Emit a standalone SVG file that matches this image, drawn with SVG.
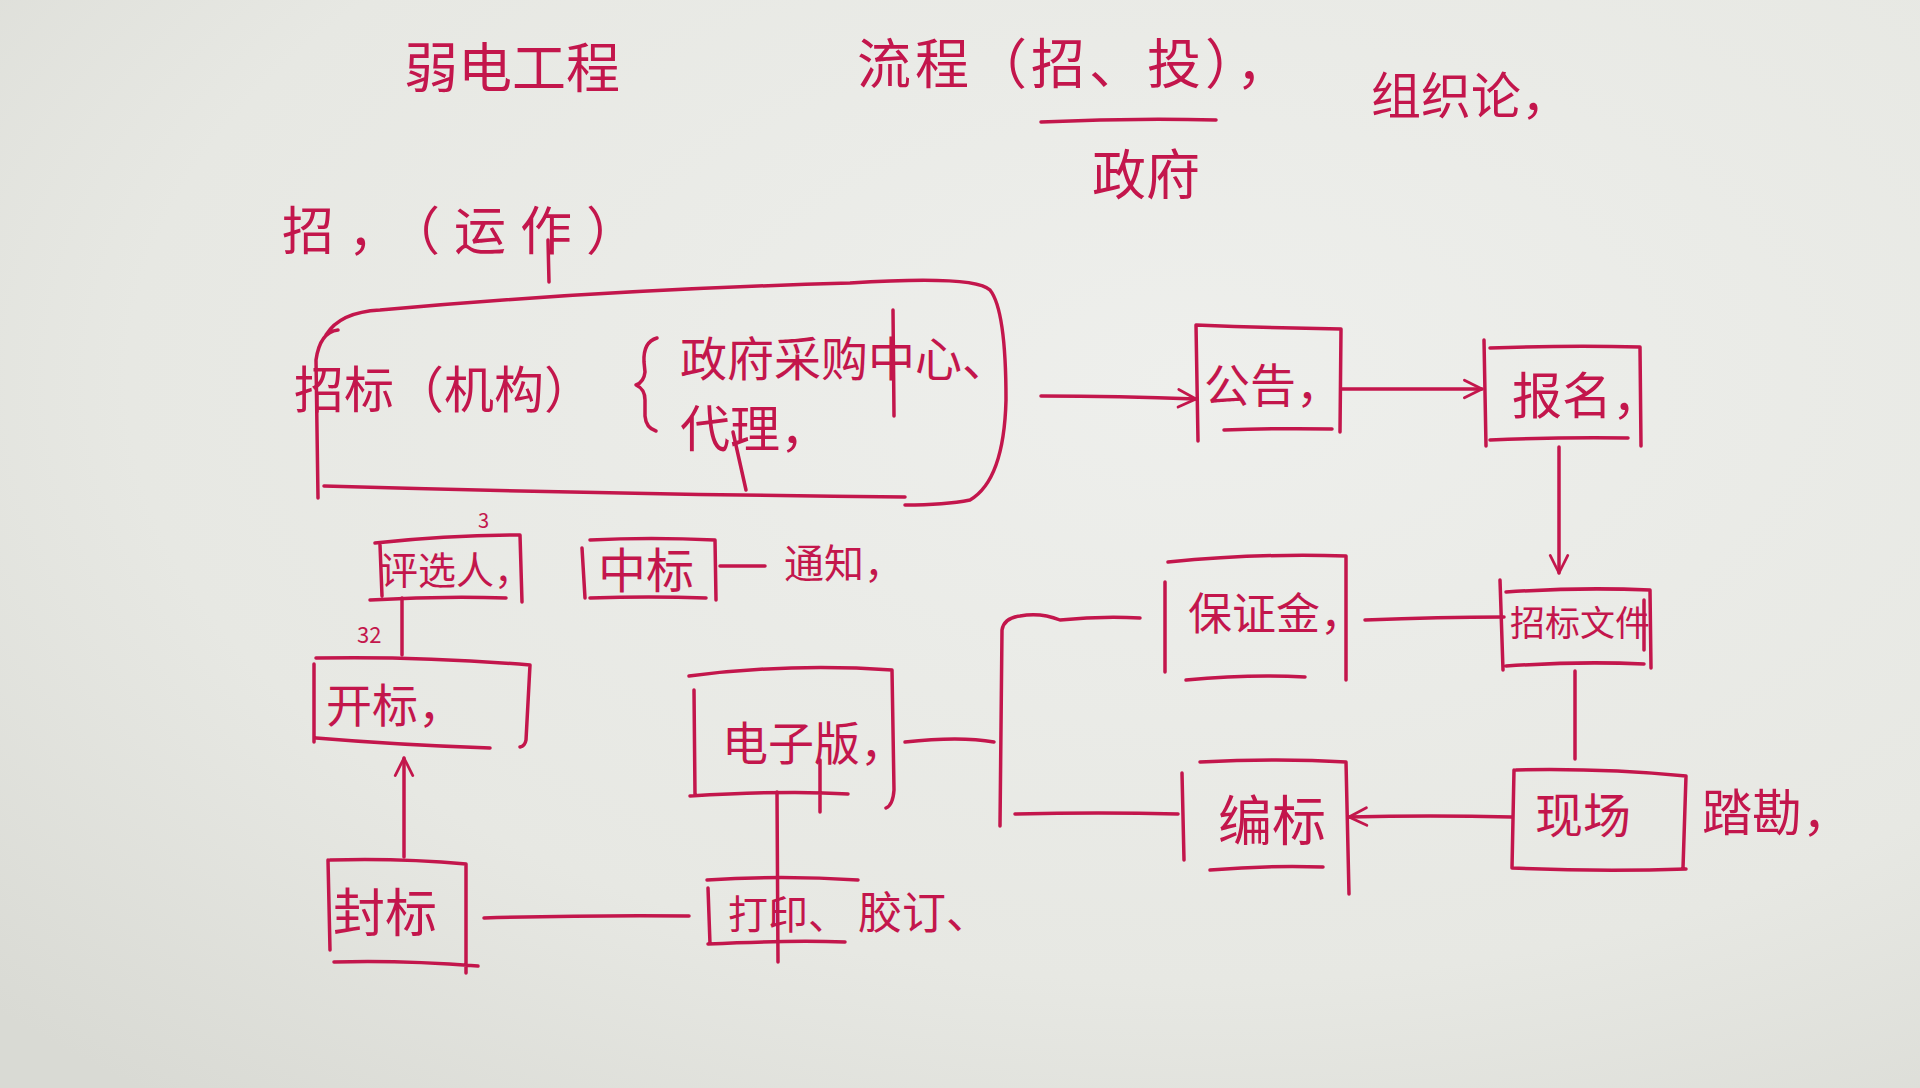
<svg xmlns="http://www.w3.org/2000/svg" width="1920" height="1088" viewBox="0 0 1920 1088">
  <defs>
    <radialGradient id="bg" cx="0.62" cy="0.35" r="0.85">
      <stop offset="0" stop-color="#eeefec"/>
      <stop offset="0.65" stop-color="#e7e8e3"/>
      <stop offset="1" stop-color="#d9dad4"/>
    </radialGradient>
    <marker id="arr" viewBox="0 0 20 20" refX="18" refY="10" markerWidth="22" markerHeight="22" markerUnits="userSpaceOnUse" orient="auto">
      <path d="M2,2 L18,10 L2,18" fill="none" stroke="#c3164c" stroke-width="2.5" stroke-linecap="round" stroke-linejoin="round"/>
    </marker>
    <style>
      .ink { fill: none; stroke: #c3164c; stroke-width: 3.5; stroke-linecap: round; stroke-linejoin: round; }
      .t { fill: #c3164c; font-family: "Noto Sans CJK SC", "Noto Sans", sans-serif; font-weight: 400; }
      .a { marker-end: url(#arr); }
    </style>
  </defs>
  <rect x="0" y="0" width="1920" height="1088" fill="url(#bg)"/>

  <!-- free titles -->
  <g id="title-weak">
    <text class="t" x="404" y="88" font-size="54">弱电工程</text>
  </g>
  <g id="title-flow">
    <text class="t" x="857" y="84" font-size="54" letter-spacing="4">流程（招、投），</text>
    <path class="ink" d="M1041,122 Q1130,118 1216,120"/>
    <text class="t" x="1092" y="195" font-size="54">政府</text>
  </g>
  <g id="title-org">
    <text class="t" x="1371" y="114" font-size="50">组织论，</text>
  </g>
  <g id="title-op">
    <text class="t" x="282" y="250" font-size="52" letter-spacing="14">招，（运作）</text>
    <path class="ink" d="M548,240 L549,282"/>
  </g>

  <!-- container -->
  <g id="agency">
    <path class="ink" d="M338,330 Q320,332 316,360 L318,498 M326,335 Q340,312 380,310 Q600,290 850,283 Q975,275 990,290 Q1006,310 1006,400 Q1004,480 970,500 Q945,505 905,505 M324,486 Q600,494 905,497"/>
    <text class="t" x="294" y="408" font-size="50">招标（机构）</text>
    <path class="ink" d="M657,338 Q643,342 644,362 L645,372 Q644,382 636,385 Q645,389 645,400 L645,416 Q646,428 656,431" stroke-width="3"/>
    <text class="t" x="680" y="376" font-size="47">政府采购中心、</text>
    <path class="ink" d="M893,310 L894,416"/>
    <text class="t" x="680" y="447" font-size="50">代理，</text>
    <path class="ink" d="M733,432 L746,490"/>
  </g>

  <!-- nodes -->
  <g id="n-gonggao">
    <path class="ink" d="M1196,325 L1198,441 M1196,325 Q1270,328 1341,329 L1340,432 M1224,430 Q1280,428 1332,429"/>
    <text class="t" x="1204" y="402" font-size="46">公告，</text>
  </g>
  <g id="n-baoming">
    <path class="ink" d="M1484,340 L1486,446 M1490,348 Q1570,345 1640,347 L1641,446 M1490,440 Q1560,437 1628,438"/>
    <text class="t" x="1512" y="414" font-size="50">报名，</text>
  </g>
  <g id="n-zbwj">
    <path class="ink" d="M1500,580 L1503,670 M1506,592 Q1580,587 1650,590 L1651,668 M1506,666 Q1580,661 1644,664 M1644,600 L1644,650"/>
    <text class="t" x="1510" y="636" font-size="35">招标文件</text>
  </g>
  <g id="n-bzj">
    <path class="ink" d="M1165,582 L1165,672 M1168,562 Q1260,553 1346,556 L1346,680 M1186,680 Q1250,674 1305,677"/>
    <text class="t" x="1188" y="630" font-size="44">保证金，</text>
  </g>
  <g id="n-bianbiao">
    <path class="ink" d="M1182,773 L1184,860 M1200,762 Q1280,758 1346,762 L1349,894 M1210,870 Q1270,865 1323,867"/>
    <text class="t" x="1218" y="841" font-size="54">编标</text>
  </g>
  <g id="n-xianchang">
    <path class="ink" d="M1514,770 L1512,868 M1516,770 Q1600,768 1686,776 L1683,868 M1512,868 Q1600,872 1686,869"/>
    <text class="t" x="1535" y="833" font-size="48">现场</text>
  </g>
  <g id="n-takan">
    <text class="t" x="1702" y="831" font-size="50">踏勘，</text>
  </g>
  <g id="n-dzb">
    <path class="ink" d="M689,676 Q790,663 892,670 L894,790 Q893,805 886,808 M694,690 L695,795 M690,796 Q790,790 848,794 M820,760 L820,812"/>
    <text class="t" x="722" y="760" font-size="46">电子版，</text>
  </g>
  <g id="n-dayin">
    <path class="ink" d="M707,880 Q780,875 858,880 M708,888 L710,944 M708,944 Q790,940 845,942"/>
    <text class="t" x="728" y="929" font-size="40">打印、</text>
    <text class="t" x="858" y="929" font-size="44">胶订、</text>
  </g>
  <g id="n-fengbiao">
    <path class="ink" d="M328,860 L330,950 M330,860 Q400,858 466,864 L466,973 M334,962 Q400,960 478,966"/>
    <text class="t" x="333" y="932" font-size="52">封标</text>
  </g>
  <g id="n-kaibiao">
    <path class="ink" d="M316,658 Q420,656 530,665 L526,740 Q525,746 520,747 M314,664 L314,742 M316,738 Q400,745 490,748"/>
    <text class="t" x="326" y="722" font-size="46">开标，</text>
  </g>
  <g id="n-pxr">
    <path class="ink" d="M375,543 Q450,535 520,535 L522,602 M380,545 L382,596 M370,600 Q440,596 506,598"/>
    <text class="t" x="380" y="584" font-size="38">评选人，</text>
    <text class="t" x="478" y="528" font-size="20">3</text>
    <text class="t" x="357" y="643" font-size="22">32</text>
  </g>
  <g id="n-zhongbiao">
    <path class="ink" d="M582,548 L585,598 M590,540 Q650,537 715,540 L716,600 M590,598 Q650,596 706,598"/>
    <text class="t" x="598" y="588" font-size="48">中标</text>
  </g>
  <g id="n-tongzhi">
    <text class="t" x="784" y="578" font-size="40">通知，</text>
  </g>

  <!-- connectors -->
  <g id="connectors">
    <path class="ink a" d="M1041,396 Q1120,396 1196,399"/>
    <path class="ink a" d="M1341,389 Q1410,389 1482,389"/>
    <path class="ink a" d="M1559,447 L1559,573"/>
    <path class="ink" d="M1504,617 Q1440,617 1365,620"/>
    <path class="ink" d="M1140,618 Q1100,616 1060,620 Q1040,612 1020,616 Q1004,618 1002,630 L1000,826"/>
    <path class="ink" d="M905,742 Q960,736 994,742"/>
    <path class="ink" d="M1015,814 Q1100,812 1178,814"/>
    <path class="ink" d="M1575,671 L1575,759"/>
    <path class="ink a" d="M1512,817 Q1430,815 1349,817"/>
    <path class="ink" d="M777,792 L778,962"/>
    <path class="ink" d="M484,918 Q590,915 689,916"/>
    <path class="ink a" d="M404,857 L404,758"/>
    <path class="ink" d="M402,655 L402,598"/>
    <path class="ink" d="M720,566 L765,566"/>
  </g>
</svg>
